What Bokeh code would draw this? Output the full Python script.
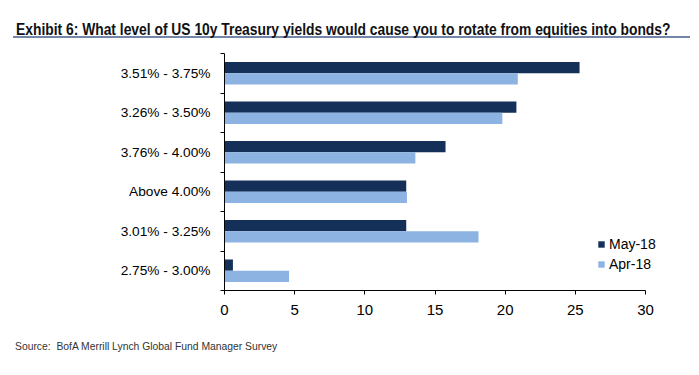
from bokeh.plotting import figure
from bokeh.models import ColumnDataSource, FixedTicker, Div, Legend, LegendItem, Range1d
from bokeh.layouts import column
from bokeh.embed import file_html
from bokeh.resources import INLINE

categories = ["3.51% - 3.75%", "3.26% - 3.50%", "3.76% - 4.00%", "Above 4.00%", "3.01% - 3.25%", "2.75% - 3.00%"]
may18 = [25.3, 20.8, 15.75, 12.95, 12.95, 0.6]
apr18 = [20.9, 19.8, 13.6, 13.0, 18.1, 4.6]
series_names = ["May-18", "Apr-18"]
x_ticks = [0, 5, 10, 15, 20, 25, 30]
x_max = 30

DARK = "#142f58"
LIGHT = "#8db3e2"

n = len(categories)
pos = [n - i - 0.5 for i in range(n)]
bar_h = 0.287
off = bar_h / 2

src = ColumnDataSource(dict(
    cat=categories,
    may=may18,
    apr=apr18,
    y_may=[p_ + off for p_ in pos],
    y_apr=[p_ - off for p_ in pos],
))

# frame spans 224..659 px; value 30 sits at 645 px
frame_w = 435
axis_w = 421
p = figure(width=699, height=285, output_backend="svg", toolbar_location=None,
           x_range=Range1d(0, x_max * frame_w / axis_w), y_range=Range1d(0, n),
           min_border_left=224, min_border_right=699 - 224 - frame_w,
           min_border_top=8, min_border_bottom=40)
p.outline_line_color = None
p.xgrid.visible = False
p.ygrid.visible = False
p.background_fill_color = "white"
p.border_fill_color = "white"

r_may = p.hbar(y="y_may", right="may", left=0, height=bar_h, source=src, fill_color=DARK, line_color=None)
r_apr = p.hbar(y="y_apr", right="apr", left=0, height=bar_h, source=src, fill_color=LIGHT, line_color=None)

# x axis
xa = p.xaxis[0]
xa.bounds = (0, x_max)
xa.ticker = FixedTicker(ticks=x_ticks, minor_ticks=[])
xa.axis_line_color = "black"
xa.major_tick_line_color = "black"
xa.major_tick_out = 4
xa.major_tick_in = 0
xa.minor_tick_line_color = None
xa.major_label_text_font = "Liberation Sans"
xa.major_label_text_font_size = "15px"
xa.major_label_text_color = "black"
xa.major_label_standoff = 10

# y axis
ya = p.yaxis[0]
ya.ticker = FixedTicker(ticks=pos, minor_ticks=list(range(n + 1)))
ya.major_label_overrides = {p_: c for p_, c in zip(pos, categories)}
ya.axis_line_color = "black"
ya.major_tick_line_color = None
ya.major_tick_out = 4
ya.major_tick_in = 0
ya.minor_tick_line_color = "black"
ya.minor_tick_out = 4
ya.minor_tick_in = 0
ya.major_label_text_font = "Liberation Sans"
ya.major_label_text_font_size = "13.7px"
ya.major_label_text_color = "black"
ya.major_label_standoff = 10

legend = Legend(items=[LegendItem(label=series_names[0], renderers=[r_may]),
                       LegendItem(label=series_names[1], renderers=[r_apr])],
                location=(373, 16), orientation="vertical")
legend.glyph_width = 8
legend.glyph_height = 8
legend.label_height = 20
legend.label_standoff = 4
legend.spacing = 0
legend.padding = 0
legend.margin = 0
legend.border_line_color = None
legend.background_fill_alpha = 0
legend.label_text_font = "Liberation Sans"
legend.label_text_font_size = "14px"
legend.label_text_color = "black"
p.add_layout(legend, "center")

title_html = ('<div style="margin:0; padding:0; width:699px; height:45px; position:relative;">'
              '<div style="position:absolute; left:13px; top:21px; width:677px; padding-left:3px; '
              'border-bottom:2px solid #7386a8; white-space:nowrap; line-height:17px; height:17px;">'
              '<span style="display:inline-block; transform:scaleX(0.865); transform-origin:left center; '
              "font-family:'Liberation Sans',Arial,sans-serif; font-weight:bold; "
              'font-size:16px; color:#111;">'
              'Exhibit 6: What level of US 10y Treasury yields would cause you to rotate from equities into bonds?'
              '</span></div></div>')
title_div = Div(text=title_html, width=699, height=45, margin=(0, 0, 0, 0))

source_html = ('<div style="margin:0; padding:0; width:699px; height:45px; position:relative;">'
               '<div style="position:absolute; left:15px; top:9px; white-space:nowrap; line-height:14px;">'
               '<span style="display:inline-block; transform:scaleX(0.94); transform-origin:left center; '
               "font-family:'Liberation Sans',Arial,sans-serif; "
               'font-size:11px; color:#333;">'
               'Source:&nbsp; BofA Merrill Lynch Global Fund Manager Survey'
               '</span></div></div>')
source_div = Div(text=source_html, width=699, height=45, margin=(0, 0, 0, 0))

layout = column(title_div, p, source_div, spacing=0, margin=(0, 0, 0, 0))

open("out.html", "w").write(file_html(layout, INLINE))
